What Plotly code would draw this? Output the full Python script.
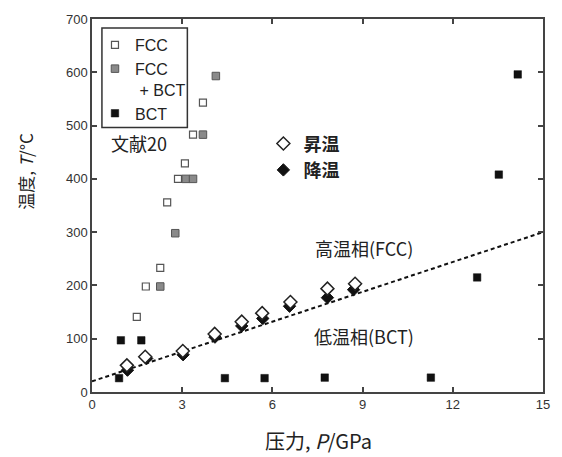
import plotly.graph_objects as go

# ---- data ----
fcc_x = [1.49, 1.79, 2.27, 2.5, 2.86, 3.09, 3.36, 3.69]
fcc_y = [141, 198, 233, 356, 400, 429, 483, 543]
mix_x = [2.27, 2.77, 3.12, 3.36, 3.69, 4.12]
mix_y = [198, 298, 400, 400, 483, 593]
bct_x = [0.9, 0.96, 1.64, 4.42, 5.74, 7.74, 11.27, 12.81, 13.53, 14.16]
bct_y = [26, 97, 97, 26, 26, 27, 27, 215, 408, 596]
heat_x = [1.16, 1.77, 3.02, 4.08, 4.98, 5.66, 6.6, 7.83, 8.75]
heat_y = [50, 66, 77, 109, 132, 148, 169, 194, 203]
cool_x = [1.18, 1.82, 3.03, 4.09, 4.98, 5.68, 6.57, 7.83, 8.7]
cool_y = [41, 63, 70, 103, 124, 138, 161, 177, 192]
line_x = [0, 15]
line_y = [20, 300]
x_ticks = [0, 3, 6, 9, 12, 15]
y_ticks = [0, 100, 200, 300, 400, 500, 600, 700]

FONT = "Arial, 'Liberation Sans', 'Noto Sans CJK JP', sans-serif"
CJK = "'Noto Sans CJK JP', Arial, 'Liberation Sans', sans-serif"

fig = go.Figure()

fig.add_trace(go.Scatter(x=line_x, y=line_y, mode="lines",
                         line=dict(color="#111", width=2, dash="4px,3px"),
                         showlegend=False, hoverinfo="skip"))

fig.add_trace(go.Scatter(x=fcc_x, y=fcc_y, mode="markers", name="FCC",
                         marker=dict(symbol="square-open", size=7, color="#555",
                                     line=dict(width=1.2, color="#555")),
                         legend="legend", legendrank=1))
fig.add_trace(go.Scatter(x=mix_x, y=mix_y, mode="markers", name="FCC<br> + BCT",
                         marker=dict(symbol="square", size=7.5, color="#8a8a8a",
                                     line=dict(width=1, color="#555")),
                         legend="legend", legendrank=2))
fig.add_trace(go.Scatter(x=bct_x, y=bct_y, mode="markers", name="BCT",
                         marker=dict(symbol="square", size=7.5, color="#111",
                                     line=dict(width=0.5, color="#111")),
                         legend="legend", legendrank=3))

fig.add_trace(go.Scatter(x=cool_x, y=cool_y, mode="markers", name="降温",
                         marker=dict(symbol="diamond", size=9.5, color="#111",
                                     line=dict(width=1, color="#111")),
                         legend="legend2", legendrank=2, legendgroup="c"))
fig.add_trace(go.Scatter(x=heat_x, y=heat_y, mode="markers", name="昇温",
                         marker=dict(symbol="diamond", size=10, color="white",
                                     line=dict(width=1.5, color="#222")),
                         legend="legend2", legendrank=1, legendgroup="h"))

axis_common = dict(showline=True, linecolor="#444", linewidth=1.5, mirror="ticks",
                   ticks="inside", ticklen=5, tickcolor="#444", tickwidth=1.5,
                   showgrid=False, zeroline=False,
                   tickfont=dict(family=FONT, size=13, color="#333"))

W, H, L, R, T, B = 562, 457, 92, 16, 17, 65
pw, ph = W - L - R, H - T - B

def px(xp):
    return (xp - L) / pw

def py(yp):
    return (H - B - yp) / ph

fig.update_layout(
    width=W, height=H,
    margin=dict(l=L, r=R, t=T, b=B),
    paper_bgcolor="white", plot_bgcolor="white",
    xaxis=dict(range=[0, 15], tickvals=x_ticks, **axis_common),
    yaxis=dict(range=[0, 700], tickvals=y_ticks, **axis_common),
    legend=dict(x=px(95), y=py(26), xanchor="left", yanchor="top",
                borderwidth=0, bgcolor="rgba(0,0,0,0)",
                font=dict(family=FONT, size=16, color="#222"),
                itemwidth=30, valign="top", traceorder="normal"),
    legend2=dict(x=0.38, y=0.715, xanchor="left", yanchor="top",
                 bgcolor="rgba(0,0,0,0)", borderwidth=0,
                 font=dict(family=CJK, size=18, color="#222", weight="bold"),
                 itemwidth=30, tracegroupgap=6, traceorder="normal"),
    shapes=[dict(type="rect", xref="paper", yref="paper",
                 x0=px(102), x1=px(188), y0=py(126), y1=py(26),
                 line=dict(color="#333", width=1.5), fillcolor="rgba(0,0,0,0)")],
    annotations=[
        dict(text="文献20", x=1.55, y=468, xref="x", yref="y", showarrow=False,
             font=dict(family=CJK, size=18, color="#222")),
        dict(text="高温相(FCC)", x=9.05, y=271, xref="x", yref="y", showarrow=False,
             font=dict(family=CJK, size=18, color="#222")),
        dict(text="低温相(BCT)", x=9.05, y=106, xref="x", yref="y", showarrow=False,
             font=dict(family=CJK, size=18, color="#222")),
        dict(text="温度, <i>T</i>/°C", x=px(25), y=py(170),
             xref="paper", yref="paper", xanchor="center", yanchor="middle",
             showarrow=False, textangle=-90,
             font=dict(family=CJK, size=17, color="#222")),
        dict(text="压力, <i>P</i>/GPa", x=px(320), y=py(441),
             xref="paper", yref="paper", xanchor="center", yanchor="middle",
             showarrow=False, font=dict(family=CJK, size=20, color="#222")),
    ],
)

fig.write_html("out.html")
